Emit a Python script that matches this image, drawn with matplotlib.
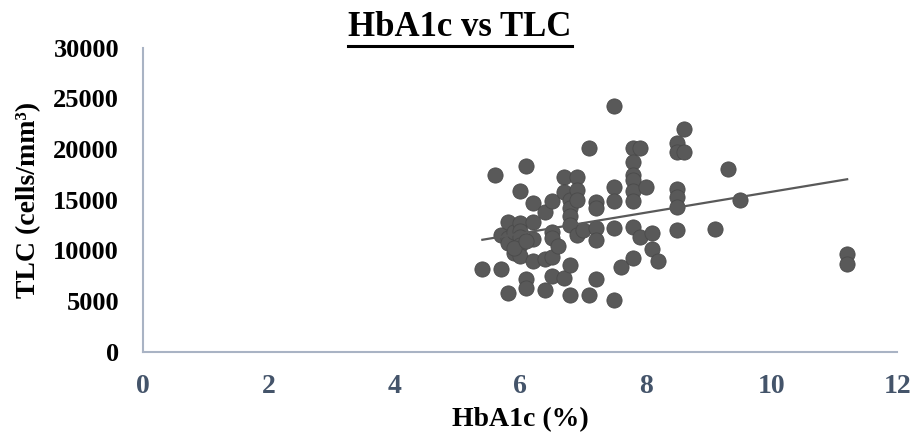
import numpy as np
import matplotlib.pyplot as plt
from matplotlib.lines import Line2D

hba1c = [5.4, 5.6, 5.7, 5.7, 5.8, 5.8, 5.8, 5.8, 5.9, 5.9, 6.0, 6.0, 6.0, 6.0, 6.0, 6.0,
         6.1, 6.1, 6.1, 6.2, 6.2, 6.2, 6.2, 5.9, 6.1,
         6.4, 6.4, 6.4, 6.5, 6.5, 6.5, 6.5, 6.5, 6.6, 6.7, 6.7, 6.7, 6.8, 6.8, 6.8, 6.8,
         6.8, 6.8, 6.9, 6.9, 6.9, 6.9, 7.0, 7.1, 7.1, 7.2, 7.2, 7.2, 7.2, 7.2,
         7.5, 7.5, 7.5, 7.5, 7.5, 7.6, 7.8, 7.8, 7.8, 7.8, 7.8, 7.8, 7.8, 7.8, 7.9, 7.9,
         8.0, 8.1, 8.1, 8.2, 8.5, 8.5, 8.5, 8.5, 8.5, 8.5, 8.6, 8.6, 9.1, 9.3, 9.5, 11.2, 11.2]
tlc = [8200, 17400, 8200, 11500, 12800, 11200, 10700, 5800, 9700, 11800, 15900, 12700, 11900, 11300, 10500, 9400,
       18300, 7200, 6300, 14700, 12800, 11100, 8900, 10200, 10900,
       13800, 9100, 6100, 14900, 11800, 11200, 9300, 7500, 10400, 17200, 15800, 7300, 15000, 14200, 13400, 12500,
       8600, 5600, 17200, 16000, 15000, 11500, 12000, 20100, 5600, 14800, 14200, 12200, 11000, 7200,
       24200, 16200, 14900, 12200, 5100, 8400, 20100, 18700, 17400, 16900, 15900, 14900, 12300, 9200, 20100, 11300,
       16200, 11700, 10100, 8900, 20600, 19700, 16100, 15300, 14300, 12000, 22000, 19700, 12100, 18000, 15000, 9600, 8700]

plt.rcParams['font.family'] = 'Liberation Serif'
plt.rcParams['font.weight'] = 'bold'

fig = plt.figure(figsize=(9.13, 4.41), dpi=100)
ax = fig.add_axes([0.1563, 0.2025, 0.8267, 0.6895])

ax.scatter(hba1c, tlc, s=120, color='#595959', edgecolors='#4a4a4a', linewidths=0.6, zorder=3)

# linear trendline
m, b = np.polyfit(hba1c, tlc, 1)
xs = np.array([min(hba1c), max(hba1c)])
ax.plot(xs, m * xs + b, color='#595959', lw=1.6, zorder=4)

ax.set_xlim(0, 12)
ax.set_ylim(0, 30000)
ax.set_xticks(range(0, 13, 2))
ax.set_yticks(range(0, 30001, 5000))
ax.tick_params(length=0)
ax.tick_params(axis='x', pad=16, labelsize=20, labelcolor='#44546A')
ax.tick_params(axis='y', pad=17, labelsize=19, labelcolor='black')
for lbl in ax.get_xticklabels() + ax.get_yticklabels():
    lbl.set_fontweight('bold')

for s in ['top', 'right']:
    ax.spines[s].set_visible(False)
for s in ['left', 'bottom']:
    ax.spines[s].set_color('#A9B3C4')
    ax.spines[s].set_linewidth(1.5)

ax.set_xlabel('HbA1c (%)', fontsize=20, fontweight='bold', labelpad=6)
ax.set_ylabel('TLC (cells/mm³)', fontsize=20, fontweight='bold', labelpad=9)

title = fig.text(0.504, 0.975, 'HbA1c vs TLC', ha='center', va='top', fontsize=25, fontweight='bold')
fig.canvas.draw()
bb = title.get_window_extent().transformed(fig.transFigure.inverted())
fig.add_artist(Line2D([bb.x0, bb.x1], [bb.y0 - 0.004, bb.y0 - 0.004], color='black', lw=2.2))

fig.savefig('out.png', dpi=100)
